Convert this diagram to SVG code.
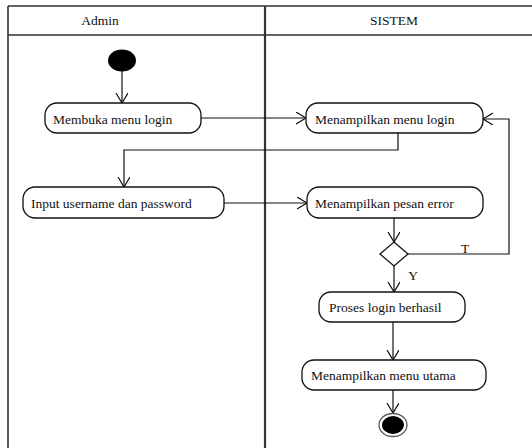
<svg xmlns="http://www.w3.org/2000/svg" width="532" height="448" viewBox="0 0 532 448">
<defs>
<style>
.frame{stroke:#333;stroke-width:1.6;fill:none}
.div{stroke:#333;stroke-width:2.2;fill:none}
.act{fill:#fff;stroke:#111;stroke-width:1.3}
.lbl{font-family:"Liberation Serif","Times New Roman",serif;font-size:13.5px;fill:#111}
.hdr{font-family:"Liberation Serif","Times New Roman",serif;font-size:13.5px;fill:#111;text-anchor:middle}
.edge{stroke:#111;stroke-width:1.2;fill:none}
</style>
<marker id="arr" markerUnits="userSpaceOnUse" markerWidth="14" markerHeight="14" refX="10" refY="6" orient="auto" viewBox="0 0 14 14">
<path d="M0,0 L10,6 L0,12" fill="none" stroke="#111" stroke-width="1.2"/>
</marker>
</defs>
<rect width="532" height="448" fill="#fff"/>
<g id="lanes">
<path class="frame" d="M8,6 H532 M8,35 H532 M8,6 V448"/>
<path class="div" d="M265,6 V448"/>
<text class="hdr" x="100" y="25">Admin</text>
<text class="hdr" x="394" y="25">SISTEM</text>
</g>
<g id="connectors">
<path class="edge" d="M122,71 V103" marker-end="url(#arr)"/>
<path class="edge" d="M201,118 H306" marker-end="url(#arr)"/>
<path class="edge" d="M398,133 V150 H124 V187" marker-end="url(#arr)"/>
<path class="edge" d="M224,203 H307" marker-end="url(#arr)"/>
<path class="edge" d="M394,218 V242" marker-end="url(#arr)"/>
<path class="edge" d="M408,254 H509 V119 H483" marker-end="url(#arr)"/>
<path class="edge" d="M394,266 V292" marker-end="url(#arr)"/>
<path class="edge" d="M393,322 V360" marker-end="url(#arr)"/>
<path class="edge" d="M393,390 V413" marker-end="url(#arr)"/>
<text class="hdr" x="465" y="253">T</text>
<text class="hdr" x="413" y="280">Y</text>
</g>
<g id="start"><ellipse cx="122" cy="60.5" rx="14" ry="11" fill="#000"/></g>
<g id="act1"><rect class="act" x="45" y="103" width="156" height="30" rx="12"/><text class="lbl" x="53" y="124">Membuka menu login</text></g>
<g id="act2"><rect class="act" x="306" y="103" width="177" height="30" rx="12"/><text class="lbl" x="315" y="124">Menampilkan menu login</text></g>
<g id="act3"><rect class="act" x="23" y="187" width="201" height="31" rx="12"/><text class="lbl" x="31" y="208">Input username dan password</text></g>
<g id="act4"><rect class="act" x="307" y="187" width="176" height="31" rx="12"/><text class="lbl" x="315" y="208">Menampilkan pesan error</text></g>
<g id="decision"><path class="act" d="M394,242 L408,254 L394,266 L380,254 Z"/></g>
<g id="act5"><rect class="act" x="319" y="292" width="146" height="30" rx="12"/><text class="lbl" x="329" y="312">Proses login berhasil</text></g>
<g id="act6"><rect class="act" x="302" y="360" width="184" height="30" rx="12"/><text class="lbl" x="311" y="380">Menampilkan menu utama</text></g>
<g id="end"><ellipse cx="393" cy="425" rx="14" ry="11.5" fill="#fff" stroke="#555" stroke-width="1.3"/><ellipse cx="393" cy="425" rx="11" ry="9" fill="#000"/></g>
</svg>
